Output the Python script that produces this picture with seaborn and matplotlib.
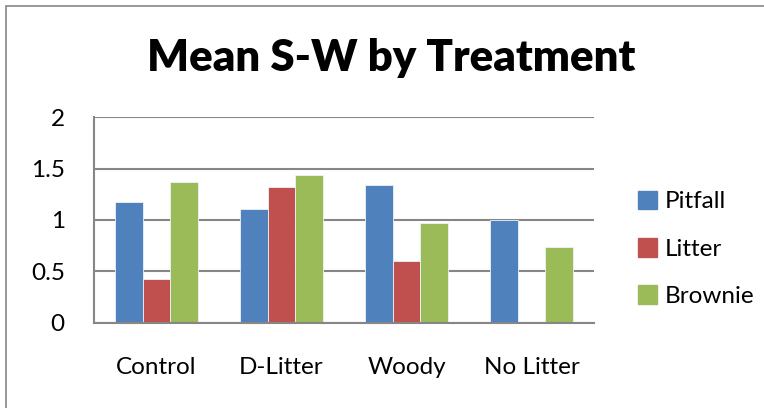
#%% Setup

import pandas as pd
import matplotlib.pyplot as plt
import matplotlib.patches as mpatches
import seaborn as sns

sns.set_theme(style="white")
plt.rcParams['font.family'] = ['Lato', 'DejaVu Sans']
plt.rcParams['text.color'] = 'black'

#%% Data

treatments = ["Control", "D-Litter", "Woody", "No Litter"]
methods = ["Pitfall", "Litter", "Brownie"]

pitfall = [1.17, 1.11, 1.34, 1.00]
litter = [0.43, 1.32, 0.60, None]    # no litter bar for No Litter
brownie = [1.37, 1.44, 0.97, 0.74]

y_ticks = [0, 0.5, 1, 1.5, 2]
y_labels = ["0", "0.5", "1", "1.5", "2"]

colours = ["#4F81BD", "#C0504D", "#9BBB59"]

# long form for seaborn
sw = pd.DataFrame({
    "Treatment": treatments * 3,
    "Method": [m for m in methods for _ in treatments],
    "S-W": pitfall + litter + brownie,
})

#%% Plot

fig = plt.figure(figsize=(7.64, 4.08), dpi=100)
ax = fig.add_axes([0.123, 0.209, 0.6545, 0.504])

sns.barplot(data=sw, x="Treatment", y="S-W", hue="Method",
            order=treatments, hue_order=methods, palette=colours,
            saturation=1, width=0.66, gap=0, edgecolor="#eef2f7",
            linewidth=0.6, errorbar=None, legend=False, ax=ax, zorder=3)

ax.set_ylim(0, 2)
ax.set_yticks(y_ticks)
ax.set_yticklabels(y_labels)
ax.set_xlim(-0.5, 3.5)
ax.set_xlabel(None)
ax.set_ylabel(None)

# excel-like grid and axes
ax.grid(axis="y", color="#868686", linewidth=1.5, zorder=0)
ax.set_axisbelow(True)
for side in ["top", "right"]:
    ax.spines[side].set_visible(False)
for side in ["left", "bottom"]:
    ax.spines[side].set_color("#868686")
    ax.spines[side].set_linewidth(1.5)
    ax.spines[side].set_zorder(4)
ax.tick_params(axis="x", length=0, pad=25, labelsize=17.5, colors="black")
ax.tick_params(axis="y", length=0, pad=21, labelsize=17.5, colors="black")

# legend on the right
handles = [mpatches.Patch(color=c, label=m) for c, m in zip(colours, methods)]
fig.legend(handles=handles, loc="center left", bbox_to_anchor=(0.822, 0.39),
           frameon=False, fontsize=17.5, handlelength=0.8, handleheight=0.8,
           handletextpad=0.3, labelspacing=1.05, borderaxespad=0)

# title
fig.text(0.512, 0.827, "Mean S-W by Treatment", ha="center", va="baseline",
         fontsize=31.5, fontweight="heavy", color="black")

# chart area border (only left and top edges show)
fig.patches.append(mpatches.Rectangle((6 / 764, -0.5), 2, 1.5 - 6 / 408,
                                      transform=fig.transFigure, fill=False,
                                      edgecolor="#868686", linewidth=1.2))

fig.savefig("out.png", dpi=100)
